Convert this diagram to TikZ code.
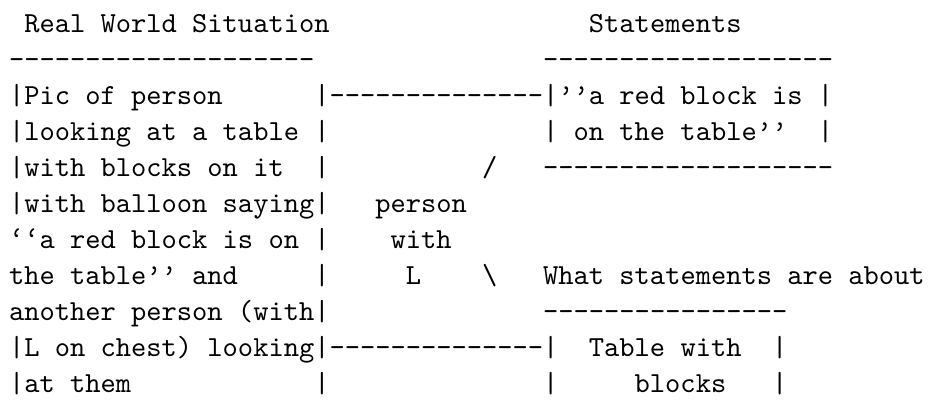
\documentclass[tikz,border=0pt]{standalone}
\newcommand\gapn[1]{\hspace*{#1\fontcharwd\font`\x}}
\newcommand\dashn[1]{\foreach \k in {1,...,#1}{-\kern0pt}}
\newcommand\rqq{’\kern0pt’}
\newcommand\lqq{‘\kern0pt‘}
\tikzset{asciiline/.style={anchor=base west, inner sep=0pt, outer sep=0pt,
  scale=1.4533, transform shape,
  font=\ttfamily\fontsize{10pt}{12pt}\selectfont\frenchspacing}}
\begin{document}
\begin{tikzpicture}
\fill[white] (0,0) rectangle (464pt,-209pt);
\useasboundingbox (0,0) rectangle (464pt,-209pt);
\node[asciiline] (l1) at (4.55pt,-16pt) {\gapn{1}Real World Situation\gapn{17}Statements};
\node[asciiline] (l2) at (4.55pt,-34pt) {\dashn{20}\gapn{15}\dashn{19}};
\node[asciiline] (l3) at (4.55pt,-52pt) {|Pic of person\gapn{6}|\dashn{14}|\rqq a red block is |};
\node[asciiline] (l4) at (4.55pt,-70pt) {|looking at a table |\gapn{14}| on the table\rqq\gapn{2}|};
\node[asciiline] (l5) at (4.55pt,-88pt) {|with blocks on it\gapn{2}|\gapn{10}/\gapn{3}\dashn{19}};
\node[asciiline] (l6) at (4.55pt,-106pt) {|with balloon saying|\gapn{3}person};
\node[asciiline] (l7) at (4.55pt,-124pt) {\lqq a red block is on |\gapn{4}with};
\node[asciiline] (l8) at (4.55pt,-142pt) {the table\rqq{} and\gapn{5}|\gapn{5}L\gapn{4}\textbackslash\gapn{3}What statements are about};
\node[asciiline] (l9) at (4.55pt,-160pt) {another person (with|\gapn{14}\dashn{16}};
\node[asciiline] (l10) at (4.55pt,-178pt) {|L on chest) looking|\dashn{14}|\gapn{2}Table with\gapn{2}|};
\node[asciiline] (l11) at (4.55pt,-196pt) {|at them\gapn{12}|\gapn{14}|\gapn{5}blocks\gapn{3}|};
\end{tikzpicture}
\end{document}
